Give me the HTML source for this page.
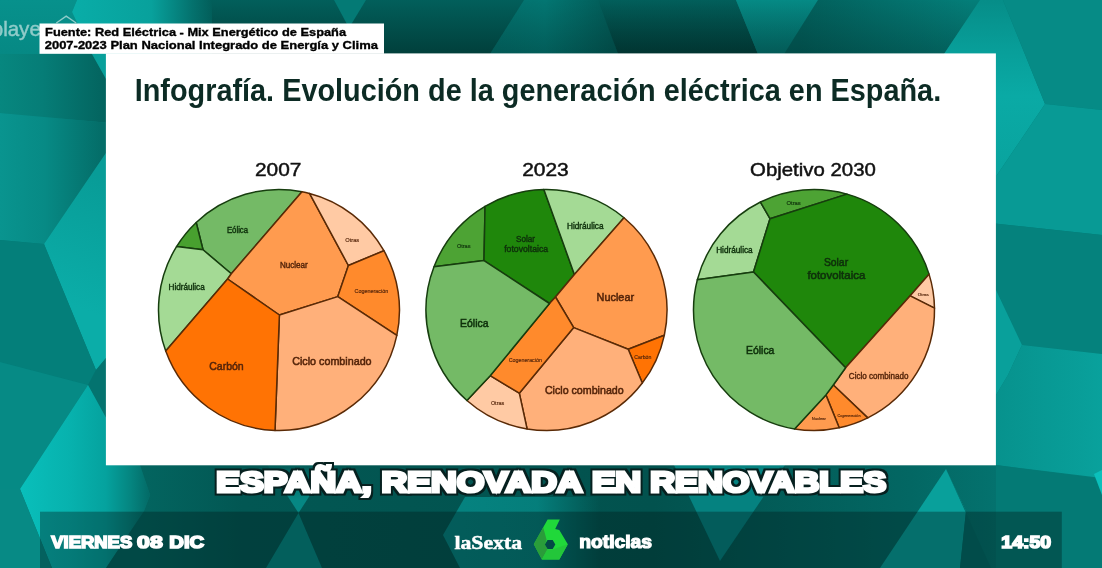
<!DOCTYPE html>
<html lang="es">
<head>
<meta charset="utf-8">
<title>España, renovada en renovables</title>
<style>
html,body{margin:0;padding:0;background:#0b7f7c;overflow:hidden}
body{width:1102px;height:568px;position:relative;font-family:"Liberation Sans",sans-serif}
svg{position:absolute;left:0;top:0;display:block}
text{font-family:"Liberation Sans",sans-serif}
.serif{font-family:"Liberation Serif",serif}
</style>
</head>
<body>
<svg width="1102" height="568" viewBox="0 0 1102 568">
<defs>
<linearGradient id="gT1" x1="0" y1="0" x2="0" y2="1"><stop offset="0" stop-color="#07918c"/><stop offset="1" stop-color="#068984"/></linearGradient>
<linearGradient id="gT2" gradientUnits="userSpaceOnUse" x1="77" y1="0" x2="212" y2="0"><stop offset="0" stop-color="#09aca7"/><stop offset="0.55" stop-color="#08a19c"/><stop offset="0.85" stop-color="#04726e"/><stop offset="1" stop-color="#025e5a"/></linearGradient>
<linearGradient id="gT3" gradientUnits="userSpaceOnUse" x1="0" y1="0" x2="0" y2="54"><stop offset="0" stop-color="#025f5b"/><stop offset="1" stop-color="#013f3b"/></linearGradient>
<linearGradient id="gT5" gradientUnits="userSpaceOnUse" x1="500" y1="0" x2="612" y2="0"><stop offset="0" stop-color="#03716d"/><stop offset="0.4" stop-color="#037672"/><stop offset="1" stop-color="#025b57"/></linearGradient>
<linearGradient id="gT7" gradientUnits="userSpaceOnUse" x1="0" y1="0" x2="0" y2="54"><stop offset="0" stop-color="#058a85"/><stop offset="1" stop-color="#04736f"/></linearGradient>
<linearGradient id="gT8" gradientUnits="userSpaceOnUse" x1="800" y1="0" x2="970" y2="0"><stop offset="0" stop-color="#025f5b"/><stop offset="1" stop-color="#047e79"/></linearGradient>
<linearGradient id="gT9" gradientUnits="userSpaceOnUse" x1="1000" y1="0" x2="1000" y2="175"><stop offset="0" stop-color="#068d88"/><stop offset="0.3" stop-color="#089f9a"/><stop offset="0.55" stop-color="#0aaaa5"/><stop offset="1" stop-color="#09a39e"/></linearGradient>
<linearGradient id="gL1" gradientUnits="userSpaceOnUse" x1="0" y1="90" x2="100" y2="170"><stop offset="0" stop-color="#088d88"/><stop offset="0.5" stop-color="#06827d"/><stop offset="1" stop-color="#036a65"/></linearGradient>
<linearGradient id="gL6" gradientUnits="userSpaceOnUse" x1="20" y1="0" x2="150" y2="0"><stop offset="0" stop-color="#09bfbb"/><stop offset="0.4" stop-color="#07b1ad"/><stop offset="0.66" stop-color="#05a29e"/><stop offset="0.85" stop-color="#058580"/><stop offset="1" stop-color="#036a66"/></linearGradient>
<linearGradient id="gB1" gradientUnits="userSpaceOnUse" x1="140" y1="0" x2="996" y2="0"><stop offset="0" stop-color="#036560"/><stop offset="0.12" stop-color="#025753"/><stop offset="0.6" stop-color="#02524e"/><stop offset="0.9" stop-color="#036763"/><stop offset="1" stop-color="#04726e"/></linearGradient>
<linearGradient id="gR4" gradientUnits="userSpaceOnUse" x1="996" y1="0" x2="1102" y2="0"><stop offset="0" stop-color="#07928d"/><stop offset="1" stop-color="#09a19c"/></linearGradient>
<linearGradient id="gB2" gradientUnits="userSpaceOnUse" x1="0" y1="468" x2="0" y2="500"><stop offset="0" stop-color="#068783" stop-opacity="0.15"/><stop offset="1" stop-color="#068783" stop-opacity="1"/></linearGradient>
<linearGradient id="gB3" gradientUnits="userSpaceOnUse" x1="443" y1="0" x2="600" y2="0"><stop offset="0" stop-color="#058380"/><stop offset="0.6" stop-color="#058380" stop-opacity="0.9"/><stop offset="1" stop-color="#058380" stop-opacity="0"/></linearGradient>
<linearGradient id="gTS" gradientUnits="userSpaceOnUse" x1="0" y1="0" x2="0" y2="54"><stop offset="0" stop-color="#001a18" stop-opacity="0"/><stop offset="1" stop-color="#001a18" stop-opacity="0.28"/></linearGradient>
<linearGradient id="gL1a" gradientUnits="userSpaceOnUse" x1="0" y1="0" x2="106" y2="0"><stop offset="0" stop-color="#07877f"/><stop offset="0.4" stop-color="#067d77"/><stop offset="1" stop-color="#03635e"/></linearGradient>
<linearGradient id="gL1b" gradientUnits="userSpaceOnUse" x1="0" y1="0" x2="100" y2="0"><stop offset="0" stop-color="#09948f"/><stop offset="0.45" stop-color="#078a85"/><stop offset="1" stop-color="#046e69"/></linearGradient>
<linearGradient id="gF1" gradientUnits="userSpaceOnUse" x1="60" y1="300" x2="110" y2="180"><stop offset="0" stop-color="#0badA8"/><stop offset="1" stop-color="#089c97"/></linearGradient>
<filter id="hl" x="-2%" y="-30%" width="104%" height="160%" color-interpolation-filters="sRGB">
<feMorphology in="SourceAlpha" operator="dilate" radius="1.5" result="d"/>
<feGaussianBlur in="d" stdDeviation="0.35" result="db"/>
<feFlood flood-color="#06201f" result="c"/>
<feComposite in="c" in2="db" operator="in" result="o"/>
<feMerge><feMergeNode in="o"/><feMergeNode in="SourceGraphic"/></feMerge>
</filter>
</defs>
<rect x="0" y="0" width="1102" height="568" fill="#047d78"/>
<!-- top strip -->
<polygon points="0,0 77,0 72,12 92,54 0,54" fill="url(#gT1)"/>
<polygon points="77,0 215,0 215,54 92,54 72,12" fill="url(#gT2)"/>
<rect x="212" y="0" width="320" height="54" fill="url(#gT3)"/>
<polygon points="334,0 366,0 349,28" fill="#047a75"/>
<polygon points="524,0 600,0 618,54 490,54" fill="url(#gT5)"/>
<polygon points="598,0 736,0 758,54 618,54" fill="url(#gT3)"/>
<polygon points="736,0 818,0 784,54 758,54" fill="url(#gT7)"/>
<polygon points="818,0 980,0 944,54 784,54" fill="url(#gT8)"/>
<polygon points="490,54 524,0 980,0 944,54" fill="url(#gTS)"/>
<polygon points="980,0 1003,0 1045,104 997,175 990,175 990,54 944,54" fill="url(#gT9)"/>
<polygon points="1003,0 1102,0 1102,110 1045,104" fill="#068b86"/>
<!-- right strip -->
<polygon points="1045,104 1102,110 1102,235 990,223 990,175 997,175" fill="#089a95"/>
<polygon points="990,223 1102,235 1102,354 1022,345 996,290 990,290" fill="#05827d"/>
<polygon points="990,290 996,290 1022,345 1008,375 996,395 990,395" fill="#09a09b"/>
<polygon points="1022,345 1102,354 1102,478 996,465 990,465 990,395 996,395 1008,375" fill="url(#gR4)"/>
<polygon points="990,465 996,465 1094,478 1102,495 1102,568 990,568" fill="#047a75"/>
<polygon points="1094,474 1102,470 1102,495" fill="#0bc0bb"/>
<!-- left strip -->
<polygon points="0,54 92,54 110,86 110,123 0,113" fill="url(#gL1a)"/>
<polygon points="0,113 110,123 110,150 106,153 44,244 0,240" fill="url(#gL1b)"/>
<polygon points="92,54 110,54 110,86" fill="#08a09b"/>
<polygon points="110,150 106,153 44,244 96,370 106,358 110,358" fill="url(#gF1)"/>
<polygon points="0,240 44,244 96,370 88,385 0,362" fill="#047f7a"/>
<polygon points="0,362 88,385 20,489 0,489" fill="#068a85"/>
<polygon points="96,370 106,358 110,358 110,425 88,385" fill="#04736f"/>
<polygon points="88,385 110,425 110,465 140,465 150,495 144,511 106,568 52,568 20,489" fill="url(#gL6)"/>
<polygon points="0,489 20,489 52,568 0,568" fill="#078a85"/>
<!-- bottom strip -->
<polygon points="140,465 996,465 996,568 106,568 144,511 150,495" fill="url(#gB1)"/>
<polygon points="267.5,465 329.5,465 298.5,513" fill="url(#gB2)"/>
<polygon points="298.5,513 266,568 322,568" fill="#068783"/>
<polygon points="443,535 465,497 600,497 600,568 460,568" fill="url(#gB3)"/>
<polygon points="674,465 785,465 720,561" fill="#058280"/>
<polygon points="946,469 880,568 960,568 966,511" fill="#09a09b"/>
<polygon points="946,469 966,511 960,568 991,568" fill="#036a66"/>

<rect x="105.9" y="53.4" width="890" height="411.9" fill="#ffffff"/>
<g>
<path d="M196.19 222.46A120.50 120.50 0 0 1 301.98 191.71L231.30 273.70L203.00 249.80Z" fill="#74BA66" stroke="#163d0e" stroke-width="1.5" stroke-linejoin="round"/>
<path d="M176.54 246.58A120.50 120.50 0 0 1 196.19 222.46L203.00 249.80Z" fill="#48A02F" stroke="#163d0e" stroke-width="1.5" stroke-linejoin="round"/>
<path d="M165.73 351.10A120.50 120.50 0 0 1 176.54 246.58L203.00 249.80L231.30 273.70L227.60 279.00Z" fill="#A4DA95" stroke="#163d0e" stroke-width="1.5" stroke-linejoin="round"/>
<path d="M301.98 191.71A120.50 120.50 0 0 1 309.55 193.44L348.40 265.50L337.80 296.60L279.40 315.00L227.60 279.00L231.30 273.70Z" fill="#FF9B4F" stroke="#5a2a06" stroke-width="1.5" stroke-linejoin="round"/>
<path d="M309.55 193.44A120.50 120.50 0 0 1 383.91 250.71L348.40 265.50Z" fill="#FFCAA4" stroke="#5a2a06" stroke-width="1.5" stroke-linejoin="round"/>
<path d="M383.91 250.71A120.50 120.50 0 0 1 396.82 335.29L337.80 296.60L348.40 265.50Z" fill="#FF8A2C" stroke="#5a2a06" stroke-width="1.5" stroke-linejoin="round"/>
<path d="M396.82 335.29A120.50 120.50 0 0 1 275.00 430.43L279.40 315.00L337.80 296.60Z" fill="#FFB07A" stroke="#5a2a06" stroke-width="1.5" stroke-linejoin="round"/>
<path d="M275.00 430.43A120.50 120.50 0 0 1 165.73 351.10L227.60 279.00L279.40 315.00Z" fill="#FF7304" stroke="#5a2a06" stroke-width="1.5" stroke-linejoin="round"/>
<path d="M434.01 266.80A120.50 120.50 0 0 1 485.05 206.35L484.00 260.60Z" fill="#4DA334" stroke="#163d0e" stroke-width="1.5" stroke-linejoin="round"/>
<path d="M485.05 206.35A120.50 120.50 0 0 1 543.88 189.53L574.40 274.40L555.50 297.00L549.50 303.50L484.00 260.60Z" fill="#1F870B" stroke="#163d0e" stroke-width="1.5" stroke-linejoin="round"/>
<path d="M543.88 189.53A120.50 120.50 0 0 1 624.01 217.74L574.40 274.40Z" fill="#A4DA95" stroke="#163d0e" stroke-width="1.5" stroke-linejoin="round"/>
<path d="M624.01 217.74A120.50 120.50 0 0 1 664.32 335.29L628.20 349.30L573.70 327.60L555.50 297.00L574.40 274.40Z" fill="#FF9B4F" stroke="#5a2a06" stroke-width="1.5" stroke-linejoin="round"/>
<path d="M664.32 335.29A120.50 120.50 0 0 1 642.32 383.07L628.20 349.30Z" fill="#FF7304" stroke="#5a2a06" stroke-width="1.5" stroke-linejoin="round"/>
<path d="M642.32 383.07A120.50 120.50 0 0 1 527.08 428.93L519.30 393.20L573.70 327.60L628.20 349.30Z" fill="#FFB07A" stroke="#5a2a06" stroke-width="1.5" stroke-linejoin="round"/>
<path d="M527.08 428.93A120.50 120.50 0 0 1 466.91 400.47L490.20 375.70L519.30 393.20Z" fill="#FFCAA4" stroke="#5a2a06" stroke-width="1.5" stroke-linejoin="round"/>
<path d="M555.50 297.00L573.70 327.60L519.30 393.20L490.20 375.70L549.50 303.50Z" fill="#FF8A2C" stroke="#5a2a06" stroke-width="1.5" stroke-linejoin="round"/>
<path d="M466.91 400.47A120.50 120.50 0 0 1 434.01 266.80L484.00 260.60L549.50 303.50L490.20 375.70Z" fill="#74BA66" stroke="#163d0e" stroke-width="1.5" stroke-linejoin="round"/>
<path d="M697.34 279.81A120.50 120.50 0 0 1 760.47 202.04L770.00 218.70L753.50 272.00Z" fill="#A4DA95" stroke="#163d0e" stroke-width="1.5" stroke-linejoin="round"/>
<path d="M760.47 202.04A120.50 120.50 0 0 1 847.00 194.11L770.00 218.70Z" fill="#4DA334" stroke="#163d0e" stroke-width="1.5" stroke-linejoin="round"/>
<path d="M847.00 194.11A120.50 120.50 0 0 1 929.04 274.14L910.20 295.80L845.60 367.80L753.50 272.00L770.00 218.70Z" fill="#1F870B" stroke="#163d0e" stroke-width="1.5" stroke-linejoin="round"/>
<path d="M929.04 274.14A120.50 120.50 0 0 1 934.49 308.20L910.20 295.80Z" fill="#FFCAA4" stroke="#5a2a06" stroke-width="1.5" stroke-linejoin="round"/>
<path d="M934.49 308.20A120.50 120.50 0 0 1 867.77 417.84L833.30 385.00L845.60 367.80L910.20 295.80Z" fill="#FFB07A" stroke="#5a2a06" stroke-width="1.5" stroke-linejoin="round"/>
<path d="M867.77 417.84A120.50 120.50 0 0 1 839.18 427.84L825.90 394.90L833.30 385.00Z" fill="#FF8A2C" stroke="#5a2a06" stroke-width="1.5" stroke-linejoin="round"/>
<path d="M839.18 427.84A120.50 120.50 0 0 1 794.56 428.92L825.90 394.90Z" fill="#FF9B4F" stroke="#5a2a06" stroke-width="1.5" stroke-linejoin="round"/>
<path d="M794.56 428.92A120.50 120.50 0 0 1 697.34 279.81L753.50 272.00L845.60 367.80L833.30 385.00L825.90 394.90Z" fill="#74BA66" stroke="#163d0e" stroke-width="1.5" stroke-linejoin="round"/>
</g>
<g font-weight="normal">
<text x="226.9" y="233.0" font-size="8.2" fill="#0e300b" stroke="#0e300b" stroke-width="0.40" textLength="21.2" lengthAdjust="spacingAndGlyphs">Eólica</text>
<text x="279.9" y="268.0" font-size="8.2" fill="#55250a" stroke="#55250a" stroke-width="0.40" textLength="27.8" lengthAdjust="spacingAndGlyphs">Nuclear</text>
<text x="345.2" y="241.8" font-size="5.3" fill="#55250a" stroke="#55250a" stroke-width="0.15" textLength="14.0" lengthAdjust="spacingAndGlyphs">Otras</text>
<text x="354.5" y="292.8" font-size="5.3" fill="#55250a" stroke="#55250a" stroke-width="0.15" textLength="33.8" lengthAdjust="spacingAndGlyphs">Cogeneración</text>
<text x="168.5" y="290.4" font-size="8.2" fill="#0e300b" stroke="#0e300b" stroke-width="0.40" textLength="36.2" lengthAdjust="spacingAndGlyphs">Hidráulica</text>
<text x="209.2" y="370.2" font-size="11.3" fill="#55250a" stroke="#55250a" stroke-width="0.55" textLength="34.5" lengthAdjust="spacingAndGlyphs">Carbón</text>
<text x="292.2" y="365.3" font-size="11.3" fill="#55250a" stroke="#55250a" stroke-width="0.55" textLength="79.4" lengthAdjust="spacingAndGlyphs">Ciclo combinado</text>
<text x="456.9" y="248.4" font-size="5.3" fill="#0e300b" stroke="#0e300b" stroke-width="0.15" textLength="13.6" lengthAdjust="spacingAndGlyphs">Otras</text>
<text x="516.0" y="241.6" font-size="8.2" fill="#0e300b" stroke="#0e300b" stroke-width="0.40" textLength="19.0" lengthAdjust="spacingAndGlyphs">Solar</text>
<text x="504.2" y="251.5" font-size="8.2" fill="#0e300b" stroke="#0e300b" stroke-width="0.40" textLength="43.9" lengthAdjust="spacingAndGlyphs">fotovoltaica</text>
<text x="567.0" y="228.8" font-size="8.2" fill="#0e300b" stroke="#0e300b" stroke-width="0.40" textLength="36.5" lengthAdjust="spacingAndGlyphs">Hidráulica</text>
<text x="596.6" y="301.3" font-size="11.3" fill="#55250a" stroke="#55250a" stroke-width="0.55" textLength="37.5" lengthAdjust="spacingAndGlyphs">Nuclear</text>
<text x="460.1" y="327.1" font-size="11.3" fill="#0e300b" stroke="#0e300b" stroke-width="0.55" textLength="28.4" lengthAdjust="spacingAndGlyphs">Eólica</text>
<text x="508.7" y="361.8" font-size="5.3" fill="#55250a" stroke="#55250a" stroke-width="0.15" textLength="33.2" lengthAdjust="spacingAndGlyphs">Cogeneración</text>
<text x="490.9" y="404.7" font-size="5.3" fill="#55250a" stroke="#55250a" stroke-width="0.15" textLength="13.3" lengthAdjust="spacingAndGlyphs">Otras</text>
<text x="544.9" y="393.7" font-size="11.3" fill="#55250a" stroke="#55250a" stroke-width="0.55" textLength="78.8" lengthAdjust="spacingAndGlyphs">Ciclo combinado</text>
<text x="634.3" y="359.3" font-size="5.3" fill="#55250a" stroke="#55250a" stroke-width="0.15" textLength="17.0" lengthAdjust="spacingAndGlyphs">Carbón</text>
<text x="786.5" y="205.3" font-size="5.3" fill="#0e300b" stroke="#0e300b" stroke-width="0.15" textLength="14.3" lengthAdjust="spacingAndGlyphs">Otras</text>
<text x="716.2" y="253.2" font-size="8.2" fill="#0e300b" stroke="#0e300b" stroke-width="0.40" textLength="36.5" lengthAdjust="spacingAndGlyphs">Hidráulica</text>
<text x="823.9" y="265.8" font-size="11.3" fill="#0e300b" stroke="#0e300b" stroke-width="0.55" textLength="24.2" lengthAdjust="spacingAndGlyphs">Solar</text>
<text x="807.4" y="279.3" font-size="11.3" fill="#0e300b" stroke="#0e300b" stroke-width="0.55" textLength="57.9" lengthAdjust="spacingAndGlyphs">fotovoltaica</text>
<text x="917.8" y="296.1" font-size="4.2" fill="#55250a" stroke="#55250a" stroke-width="0.15" textLength="10.9" lengthAdjust="spacingAndGlyphs">Otras</text>
<text x="746.1" y="353.7" font-size="11.3" fill="#0e300b" stroke="#0e300b" stroke-width="0.55" textLength="28.3" lengthAdjust="spacingAndGlyphs">Eólica</text>
<text x="848.8" y="378.9" font-size="8.4" fill="#55250a" stroke="#55250a" stroke-width="0.40" textLength="59.7" lengthAdjust="spacingAndGlyphs">Ciclo combinado</text>
<text x="811.8" y="420.3" font-size="4.2" fill="#55250a" stroke="#55250a" stroke-width="0.15" textLength="14.1" lengthAdjust="spacingAndGlyphs">Nuclear</text>
<text x="837.4" y="417.2" font-size="4.0" fill="#55250a" stroke="#55250a" stroke-width="0.15" textLength="23.1" lengthAdjust="spacingAndGlyphs">Cogeneración</text>
</g>
<rect x="39.5" y="23.5" width="344.5" height="30.3" fill="#ffffff"/>
<text x="45.12" y="35.90" font-size="11.60" textLength="300.93" lengthAdjust="spacingAndGlyphs" fill="#000" font-weight="bold" stroke="#000" stroke-width="0.35" stroke-linejoin="miter">Fuente: Red Eléctrica - Mix Energético de España</text>
<text x="44.73" y="48.60" font-size="11.60" textLength="333.22" lengthAdjust="spacingAndGlyphs" fill="#000" font-weight="bold" stroke="#000" stroke-width="0.35" stroke-linejoin="miter">2007-2023 Plan Nacional Integrado de Energía y Clima</text>
<text x="134.67" y="100.60" font-size="31.80" textLength="806.52" lengthAdjust="spacingAndGlyphs" fill="#0c2b24" font-weight="bold">Infografía. Evolución de la generación eléctrica en España.</text>
<text x="254.97" y="176.20" font-size="17.80" textLength="46.45" lengthAdjust="spacingAndGlyphs" fill="#111" stroke="#111" stroke-width="0.45" stroke-linejoin="miter">2007</text>
<text x="522.17" y="176.20" font-size="17.80" textLength="46.63" lengthAdjust="spacingAndGlyphs" fill="#111" stroke="#111" stroke-width="0.45" stroke-linejoin="miter">2023</text>
<text x="750.06" y="176.20" font-size="17.80" textLength="125.81" lengthAdjust="spacingAndGlyphs" fill="#111" stroke="#111" stroke-width="0.45" stroke-linejoin="miter">Objetivo 2030</text>
<rect x="40" y="511.7" width="1021.8" height="57" fill="#001818" fill-opacity="0.36"/>
<text y="491.7" font-size="30" font-weight="bold" fill="#fff" stroke="#fff" stroke-width="3.2" stroke-linejoin="miter" filter="url(#hl)"><tspan x="216.36" textLength="155.27" lengthAdjust="spacingAndGlyphs">ESPAÑA,</tspan> <tspan x="381.57" textLength="199.65" lengthAdjust="spacingAndGlyphs">RENOVADA</tspan> <tspan x="592.03" textLength="49.15" lengthAdjust="spacingAndGlyphs">EN</tspan> <tspan x="650.23" textLength="235.90" lengthAdjust="spacingAndGlyphs">RENOVABLES</tspan></text>
<text y="548.3" font-size="17" font-weight="bold" fill="#fff" stroke="#fff" stroke-width="1.6" stroke-linejoin="miter"><tspan x="51.27" textLength="80.95" lengthAdjust="spacingAndGlyphs">VIERNES</tspan> <tspan x="137.09" textLength="25.62" lengthAdjust="spacingAndGlyphs">08</tspan> <tspan x="169.35" textLength="34.80" lengthAdjust="spacingAndGlyphs">DIC</tspan></text>
<text x="579.23" y="548.40" font-size="17.50" textLength="72.86" lengthAdjust="spacingAndGlyphs" fill="#fff" font-weight="bold" stroke="#fff" stroke-width="1.20" stroke-linejoin="miter">noticias</text>
<text x="1001.37" y="548.30" font-size="17.00" textLength="49.83" lengthAdjust="spacingAndGlyphs" fill="#fff" font-weight="bold" stroke="#fff" stroke-width="1.60" stroke-linejoin="miter">14:50</text>
<text x="454.43" y="548.50" font-size="18.50" textLength="67.65" lengthAdjust="spacingAndGlyphs" fill="#fff" font-weight="bold" class="serif" stroke="#fff" stroke-width="0.50" stroke-linejoin="miter">laSexta</text>
<g>
    <polygon points="547.6,519.4 559.8,519.4 555.2,528.9 559.3,529.9 567.8,544.2 559.3,559.5 541.9,559.5 533.8,544.2" fill="#20d83a"/>
    <polygon points="533.8,544.2 543.2,527.2 546.6,539.8 545,544.5 547.5,549.2 541.9,559.5" fill="#2a9c3a"/>
    <polygon points="541.9,559.5 547.5,549.2 553,549.2 567.8,544.2 559.3,559.5" fill="#23c63a"/>
    <polygon points="544.9,544.5 547.5,540 552.7,540 555.3,544.5 552.7,549 547.5,549" fill="#034a46"/>
    </g>
<g opacity="0.55">
    <text x="-8.31" y="36.2" font-size="21" fill="#fff" stroke="#fff" stroke-width="0.4" textLength="55.97" lengthAdjust="spacingAndGlyphs">player</text>
    <polyline points="56.3,23 66.2,16.2 76.2,23" fill="none" stroke="#fff" stroke-width="1.4"/>
    </g>
</svg>
</body>
</html>
